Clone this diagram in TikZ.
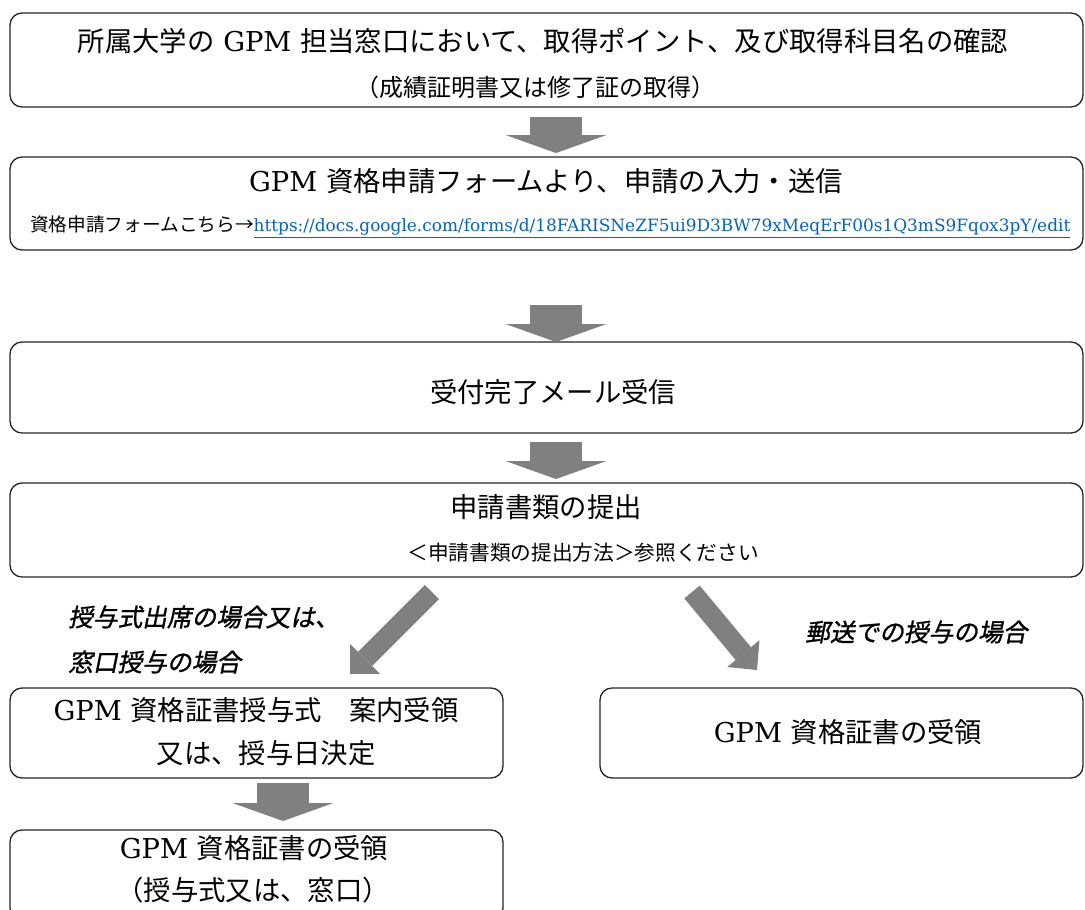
\documentclass[tikz,border=0pt]{standalone}
\usepackage{fontspec}
\setmainfont{DejaVu Serif}
\newfontfamily\jp{Noto Sans CJK JP}
\newfontfamily\jpit[FakeSlant=0.2,FakeBold=1.2]{Noto Sans CJK JP}
\usetikzlibrary{arrows.meta}
\definecolor{arrgray}{HTML}{808080}
\definecolor{linkblue}{HTML}{0563C1}
\newcommand\mainsz{\fontsize{20.5}{24}\selectfont}
\newcommand\subsz{\fontsize{15.5}{18}\selectfont}
\newcommand\lblsz{\fontsize{18.5}{22}\selectfont}
\begin{document}
\begin{tikzpicture}[x=0.75pt,y=-0.75pt,
  box/.style={draw=black!85, line width=1pt, rounded corners=9pt, inner sep=0pt},
  txt/.style={inner sep=0pt, font=\mainsz},
  subtxt/.style={inner sep=0pt, font=\subsz},
  lbl/.style={inner sep=0pt, font=\lblsz\jpit, anchor=west},
  fat/.style={draw=arrgray, line width=39pt, -{Triangle[width=75.75pt,length=13.5pt,line width=0pt]}},
  slim/.style={draw=arrgray, line width=15pt, -{Triangle[width=31.5pt,length=16pt,line width=0pt]}}]
\useasboundingbox (0,0) rectangle (1085,910);
\clip (0,0) rectangle (1085,910);
\fill[white] (0,0) rectangle (1085,910);

% boxes
\node[box, minimum width=804.75pt, minimum height=70.5pt] (b1) at (546.5,60) {};
\node[box, minimum width=804.75pt, minimum height=69.75pt] (b2) at (546.5,203.5) {};
\node[box, minimum width=804.75pt, minimum height=68.25pt] (b3) at (546.5,387.5) {};
\node[box, minimum width=804.75pt, minimum height=70.5pt] (b4) at (546.5,530) {};
\node[box, minimum width=369.75pt, minimum height=67.5pt] (b5) at (256.5,733) {};
\node[box, minimum width=362.25pt, minimum height=67.5pt] (b6) at (841.5,733) {};
\node[box, minimum width=369.75pt, minimum height=67.5pt] (b7) at (256.5,875) {};

% texts
\node[txt] (t1a) at (543,41) {\jp 所属大学の{\rmfamily\ GPM }担当窓口において、取得ポイント、及び取得科目名の確認};
\node[inner sep=0pt, font=\fontsize{18}{21}\selectfont] (t1b) at (535,87) {\jp （成績証明書又は修了証の取得）};
\node[txt] (t2a) at (546,181) {GPM {\jp 資格申請フォームより、申請の入力・送信}};
\node[inner sep=0pt, anchor=west] (t2b) at (30,227) {{\fontsize{14}{16}\selectfont\jp 資格申請フォームこちら→}{\fontsize{12.7}{15}\selectfont\color{linkblue}\underline{https://docs.google.com/forms/d/18FARISNeZF5ui9D3BW79xMeqErF00s1Q3mS9Fqox3pY/edit}}};
\node[txt] (t3) at (553,392) {\jp 受付完了メール受信};
\node[txt] (t4a) at (546,507) {\jp 申請書類の提出};
\node[subtxt] (t4b) at (583,553) {\jp ＜申請書類の提出方法＞参照ください};
\node[txt] (t5a) at (256,710) {GPM {\jp 資格証書授与式　案内受領}};
\node[txt] (t5b) at (266,753) {\jp 又は、授与日決定};
\node[txt] (t6) at (848,732) {GPM {\jp 資格証書の受領}};
\node[txt] (t7a) at (254,848) {GPM {\jp 資格証書の受領}};
\node[txt] (t7b) at (253,890) {\jp （授与式又は、窓口）};

% labels
\node[lbl] (l1) at (68,617) {授与式出席の場合又は、};
\node[lbl] (l2) at (68,662) {窓口授与の場合};
\node[lbl] (l3) at (805,632) {郵送での授与の場合};

% connectors
\coordinate (a1s) at (556,117); \coordinate (a1e) at (556,153);
\coordinate (a2s) at (556,305); \coordinate (a2e) at (556,342);
\coordinate (a3s) at (556,442); \coordinate (a3e) at (556,479);
\coordinate (a4s) at (283,783); \coordinate (a4e) at (283,821);
\coordinate (d1s) at (432,592); \coordinate (d1e) at (350,674);
\coordinate (d2s) at (692,592); \coordinate (d2e) at (757,670);
\draw[fat] (a1s) -- (a1e);
\draw[fat] (a2s) -- (a2e);
\draw[fat] (a3s) -- (a3e);
\draw[fat] (a4s) -- (a4e);
\draw[slim] (d1s) -- (d1e);
\draw[slim] (d2s) -- (d2e);
\end{tikzpicture}
\end{document}
